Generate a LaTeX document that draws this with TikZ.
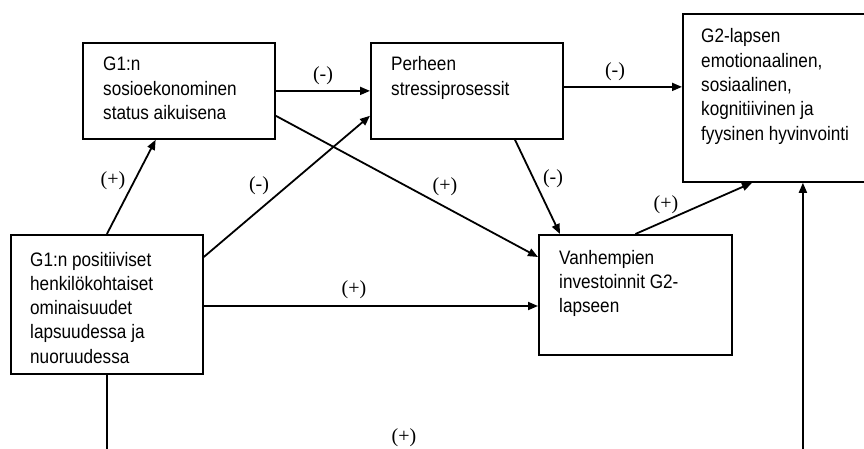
\documentclass[tikz,border=0pt]{standalone}
\usepackage{fontspec}
\setmainfont{Liberation Serif}
\newfontfamily\boxfont{Liberation Sans}
\usetikzlibrary{arrows.meta,calc}

% left-aligned, narrowed block of lines whose baseline is the first line
\newcommand\boxlines[1]{\scalebox{0.88}[1]{\begin{tabular}[t]{@{}l@{}}#1\end{tabular}}}

\tikzset{
  box/.style={draw, line width=1.8pt, rectangle, inner sep=0pt, anchor=north west},
  boxtext/.style={anchor=base west, inner sep=0pt, font=\boxfont\fontsize{19.5}{24.3}\selectfont},
  link/.style={line width=1.8pt, -{Triangle[length=10pt,width=8pt]}},
  sign/.style={inner sep=0pt, font=\fontsize{20}{24}\selectfont},
}

\begin{document}
\begin{tikzpicture}[x=1pt, y=-1pt]
  \clip (0,0) rectangle (864,449);
  \fill[white] (0,0) rectangle (864,449);

  % boxes
  \node[box, minimum width=192pt, minimum height=96pt]  (ses) at (82,42)  {};
  \node[box, minimum width=192pt, minimum height=96pt]  (per) at (370,42) {};
  \node[box, minimum width=240pt, minimum height=168pt] (g2)  at (682,13) {};
  \node[box, minimum width=192pt, minimum height=139pt] (pos) at (10,234) {};
  \node[box, minimum width=193pt, minimum height=120pt] (van) at (538,234) {};

  % box texts
  \node[boxtext] (ses-t) at ($(ses.north west)+(21,29)$)
    {\boxlines{G1:n\\sosioekonominen\\status aikuisena}};
  \node[boxtext] (per-t) at ($(per.north west)+(21,29)$)
    {\boxlines{Perheen\\stressiprosessit}};
  \node[boxtext] (g2-t) at ($(g2.north west)+(19,30)$)
    {\boxlines{G2-lapsen\\emotionaalinen,\\sosiaalinen,\\kognitiivinen ja\\fyysinen hyvinvointi}};
  \node[boxtext] (pos-t) at ($(pos.north west)+(20,32)$)
    {\boxlines{G1:n positiiviset\\henkilökohtaiset\\ominaisuudet\\lapsuudessa ja\\nuoruudessa}};
  \node[boxtext] (van-t) at ($(van.north west)+(21,30)$)
    {\boxlines{Vanhempien\\investoinnit G2-\\lapseen}};

  % connectors
  \draw[link] (ses.east) -- (per.west);
  \coordinate (pe) at ([yshift=4pt]per.east);
  \draw[link] (pe) -- (pe -| g2.west);
  \draw[link] (pos.north) -- ($(ses.south west)!0.38!(ses.south east)$);
  \draw[link] ($(pos.north east)+(0,23)$) -- ($(per.south west)+(0,-24)$);
  \draw[link] ($(ses.south east)+(0,-24)$) -- ($(van.north west)+(0,23)$);
  \draw[link] ($(per.south west)+(145,0)$) -- ($(van.north west)+(22,0)$);
  \draw[link] (van.north) -- ($(g2.south west)+(70,0)$);
  \coordinate (pv) at ($(pos.north east)+(0,72)$);
  \draw[link] (pv) -- (pv -| van.west);
  \coordinate (lowL) at ($(pos.south)+(0,100)$);
  \coordinate (lowR) at (lowL -| g2.south);
  \draw[link] (pos.south) -- (lowL) -- (lowR) -- (g2.south);

  % signs
  \node[sign] (s1) at (323,76)  {(-)};
  \node[sign] (s2) at (615,72)  {(-)};
  \node[sign] (s3) at (113,181) {(+)};
  \node[sign] (s4) at (259,186) {(-)};
  \node[sign] (s5) at (445,187) {(+)};
  \node[sign] (s6) at (553,179) {(-)};
  \node[sign] (s7) at (666,205) {(+)};
  \node[sign] (s8) at (354,290) {(+)};
  \node[sign] (s9) at (404,438) {(+)};
\end{tikzpicture}
\end{document}
